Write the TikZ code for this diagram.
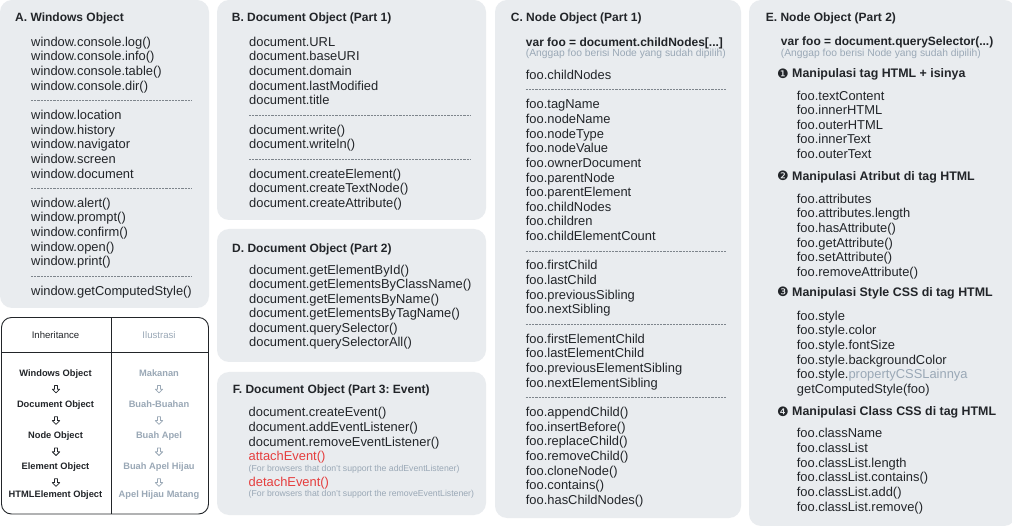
\documentclass[tikz,border=0pt]{standalone}
\usepackage{fontspec}
\usetikzlibrary{shapes.arrows}
\setmainfont{Liberation Sans}
\newfontfamily\symfont{DejaVu Sans}
\definecolor{panelbg}{HTML}{E9ECEF}
\definecolor{ink}{HTML}{222529}
\definecolor{softgray}{HTML}{9AA8B6}
\definecolor{sepgray}{HTML}{7E858C}
\definecolor{alertred}{HTML}{E53E3E}
\newcommand\bodyfont{\fontsize{12.9}{14.65}\selectfont}
\newcommand\titlefont{\fontsize{12}{14}\selectfont\bfseries}
\newcommand\headfont{\fontsize{12.4}{14}\selectfont\bfseries}
\newcommand\notefont{\fontsize{10.3}{12}\selectfont}
\newcommand\smallnotefont{\fontsize{8.7}{10}\selectfont}
\newcommand\tablefont{\fontsize{9.3}{11}\selectfont\bfseries}
\tikzset{
  every node/.append style={execute at begin node=\frenchspacing},
  panel/.style={fill=panelbg, draw=none, rounded corners=12pt},
  ttl/.style={font=\titlefont, text=ink, anchor=base west, inner sep=0pt},
  code/.style={font=\bodyfont, text=ink, anchor=base west, inner sep=0pt},
  varline/.style={font=\titlefont, text=ink, anchor=base west, inner sep=0pt},
  note/.style={font=\notefont, text=softgray, anchor=base west, inner sep=0pt},
  smallnote/.style={font=\smallnotefont, text=softgray, anchor=base west, inner sep=0pt},
  redcode/.style={font=\bodyfont, text=alertred, anchor=base west, inner sep=0pt},
  heading/.style={font=\headfont, text=ink, anchor=base west, inner sep=0pt},
  bullet/.style={font=\symfont\fontsize{13}{14}\selectfont, text=ink, anchor=base west, inner sep=0pt},
  sepline/.style={draw=sepgray, line width=0.5pt, dash pattern=on 2.2pt off 1pt},
  tblline/.style={draw=ink, line width=0.9pt},
  thead/.style={font=\fontsize{9.6}{11}\selectfont, anchor=base, inner sep=0pt},
  trow/.style={font=\tablefont, text=ink, anchor=base, inner sep=0pt},
  trowgray/.style={font=\tablefont, text=softgray, anchor=base, inner sep=0pt},
  downarrow/.style={single arrow, rotate=-90, minimum height=7.5pt, minimum width=7pt,
    single arrow head extend=2.2pt, single arrow head indent=0pt, inner sep=1.1pt,
    line width=0.75pt, line join=round, fill=none, anchor=center}
}
\begin{document}
\frenchspacing
\begin{tikzpicture}[x=1pt,y=-1pt]
\useasboundingbox (0,0) rectangle (1012,526);
\fill[white] (0,0) rectangle (1012,526);

% ---------- panels ----------
\path[panel] (0,0) rectangle (209,308);
\path[panel] (217,0) rectangle (486,220);
\path[panel] (217,229) rectangle (486,362);
\path[panel] (217,372) rectangle (486,515);
\path[panel] (495,0) rectangle (741,518);
\path[panel] (749,0) rectangle (1016,526);

% ---------- A ----------
\node[ttl] (Atitle) at (15,21.6) {A. Windows Object};
\foreach \idx/\lbl in {0/window.console.log(),1/window.console.info(),2/window.console.table(),3/window.console.dir(),5/window.location,6/window.history,7/window.navigator,8/window.screen,9/window.document,11/window.alert(),12/window.prompt(),13/window.confirm(),14/window.open(),15/window.print(),17/window.getComputedStyle()}
  \node[code, name=A\idx] at ({31},{46.2+14.65*\idx}) {\lbl};
\foreach \idx in {4,10,16}
  \draw[sepline] ({31},{41.7+14.65*\idx}) -- ({192},{41.7+14.65*\idx});

% ---------- B ----------
\node[ttl] (Btitle) at (231.7,21.6) {B. Document Object (Part 1)};
\foreach \idx/\lbl in {0/document.URL,1/document.baseURI,2/document.domain,3/document.lastModified,4/document.title,6/document.write(),7/document.writeln(),9/document.createElement(),10/document.createTextNode(),11/document.createAttribute()}
  \node[code, name=B\idx] at ({249},{46.2+14.65*\idx}) {\lbl};
\foreach \idx in {5,8}
  \draw[sepline] ({249},{41.7+14.65*\idx}) -- ({470},{41.7+14.65*\idx});

% ---------- D ----------
\node[ttl] (Dtitle) at (232,252.6) {D. Document Object (Part 2)};
\foreach \idx/\lbl in {0/document.getElementById(),1/document.getElementsByClassName(),2/document.getElementsByName(),3/document.getElementsByTagName(),4/document.querySelector(),5/document.querySelectorAll()}
  \node[code, name=D\idx] at ({249},{274.3+14.45*\idx}) {\lbl};

% ---------- F ----------
\node[ttl] (Ftitle) at (232.7,393.3) {F. Document Object (Part 3: Event)};
\node[code] (F0) at (248.5,416.8) {document.createEvent()};
\node[code] (F1) at (248.5,431.5) {document.addEventListener()};
\node[code] (F2) at (248.5,446.2) {document.removeEventListener()};
\node[redcode] (F3) at (248.5,460.2) {attachEvent()};
\node[smallnote] (F4) at (248.5,471.4) {(For browsers that don't support the addEventListener)};
\node[redcode] (F5) at (248.5,486.8) {detachEvent()};
\node[smallnote] (F6) at (248.5,496.1) {(For browsers that don't support the removeEventListener)};

% ---------- C ----------
\node[ttl] (Ctitle) at (510.7,21.6) {C. Node Object (Part 1)};
\node[varline] (Cvar) at (525.7,46.6) {var foo = document.childNodes[...]};
\node[note] (Cnote) at (525.7,57) {(Anggap foo berisi Node yang sudah dipilih)};
\foreach \idx/\lbl in {0/foo.childNodes,2/foo.tagName,3/foo.nodeName,4/foo.nodeType,5/foo.nodeValue,6/foo.ownerDocument,7/foo.parentNode,8/foo.parentElement,9/foo.childNodes,10/foo.children,11/foo.childElementCount,13/foo.firstChild,14/foo.lastChild,15/foo.previousSibling,16/foo.nextSibling,18/foo.firstElementChild,19/foo.lastElementChild,20/foo.previousElementSibling,21/foo.nextElementSibling,23/foo.appendChild(),24/foo.insertBefore(),25/foo.replaceChild(),26/foo.removeChild(),27/foo.cloneNode(),28/foo.contains(),29/foo.hasChildNodes()}
  \node[code, name=C\idx] at ({525.7},{79.5+14.65*\idx}) {\lbl};
\foreach \idx in {1,12,17,22}
  \draw[sepline] ({525.7},{75+14.65*\idx}) -- ({725.7},{75+14.65*\idx});

% ---------- E ----------
\node[ttl] (Etitle) at (765.7,21.6) {E. Node Object (Part 2)};
\node[varline] (Evar) at (780.7,46) {var foo = document.querySelector(...)};
\node[note] (Enote) at (780.7,56.4) {(Anggap foo berisi Node yang sudah dipilih)};

\node[bullet] (Eb1) at (777,78.2) {❶};
\node[heading] (Eh1) at (792,77.75) {Manipulasi tag HTML + isinya};
\foreach \idx/\lbl in {0/foo.textContent,1/foo.innerHTML,2/foo.outerHTML,3/foo.innerText,4/foo.outerText}
  \node[code, name=E1\idx] at ({796.7},{100.2+14.6*\idx}) {\lbl};

\node[bullet] (Eb2) at (777,180.6) {❷};
\node[heading] (Eh2) at (792,180.15) {Manipulasi Atribut di tag HTML};
\foreach \idx/\lbl in {0/foo.attributes,1/foo.attributes.length,2/foo.hasAttribute(),3/foo.getAttribute(),4/foo.setAttribute(),5/foo.removeAttribute()}
  \node[code, name=E2\idx] at ({796.7},{203.2+14.65*\idx}) {\lbl};

\node[bullet] (Eb3) at (777,296.9) {❸};
\node[heading] (Eh3) at (792,296.45) {Manipulasi Style CSS di tag HTML};
\foreach \idx/\lbl in {0/foo.style,1/foo.style.color,2/foo.style.fontSize,3/foo.style.backgroundColor,5/getComputedStyle(foo)}
  \node[code, name=E3\idx] at ({796.7},{320.2+14.65*\idx}) {\lbl};
\node[code] (E34) at (796.7,378.8) {foo.style.\textcolor{softgray}{propertyCSSLainnya}};

\node[bullet] (Eb4) at (777,416.2) {❹};
\node[heading] (Eh4) at (792,415.75) {Manipulasi Class CSS di tag HTML};
\foreach \idx/\lbl in {0/foo.className,1/foo.classList,2/foo.classList.length,3/foo.classList.contains(),4/foo.classList.add(),5/foo.classList.remove()}
  \node[code, name=E4\idx] at ({796.7},{437.8+14.65*\idx}) {\lbl};

% ---------- inheritance table ----------
\draw[tblline, rounded corners=10pt] (1.5,317.5) rectangle (208.5,514);
\draw[tblline] (1.5,352.7) -- (208.5,352.7);
\draw[tblline] (111,317.5) -- (111,514);
\node[thead, text=ink] (hInh) at (55.5,338.5) {Inheritance};
\node[thead, text=softgray] (hIlu) at (159,338.5) {Ilustrasi};

\node[trow] (tW) at (55.5,376.1) {Windows Object};
\node[trow] (tD) at (55.5,407.4) {Document Object};
\node[trow] (tN) at (55.5,438.7) {Node Object};
\node[trow] (tE) at (55.5,469.4) {Element Object};
\node[trow] (tH) at (55.5,497.7) {HTMLElement Object};
\node[trowgray] (iM) at (159,376.1) {Makanan};
\node[trowgray] (iB) at (159,407.4) {Buah-Buahan};
\node[trowgray] (iA) at (159,438.7) {Buah Apel};
\node[trowgray] (iH) at (159,469.4) {Buah Apel Hijau};
\node[trowgray] (iAM) at (159,497.7) {Apel Hijau Matang};

\node[downarrow, draw=ink] (a1) at (56,388.4) {};
\node[downarrow, draw=ink] (a2) at (56,419.8) {};
\node[downarrow, draw=ink] (a3) at (56,451) {};
\node[downarrow, draw=ink] (a4) at (56,481.8) {};
\node[downarrow, draw=softgray] (b1) at (159,388.4) {};
\node[downarrow, draw=softgray] (b2) at (159,419.8) {};
\node[downarrow, draw=softgray] (b3) at (159,451) {};
\node[downarrow, draw=softgray] (b4) at (159,481.8) {};
\end{tikzpicture}
\end{document}
